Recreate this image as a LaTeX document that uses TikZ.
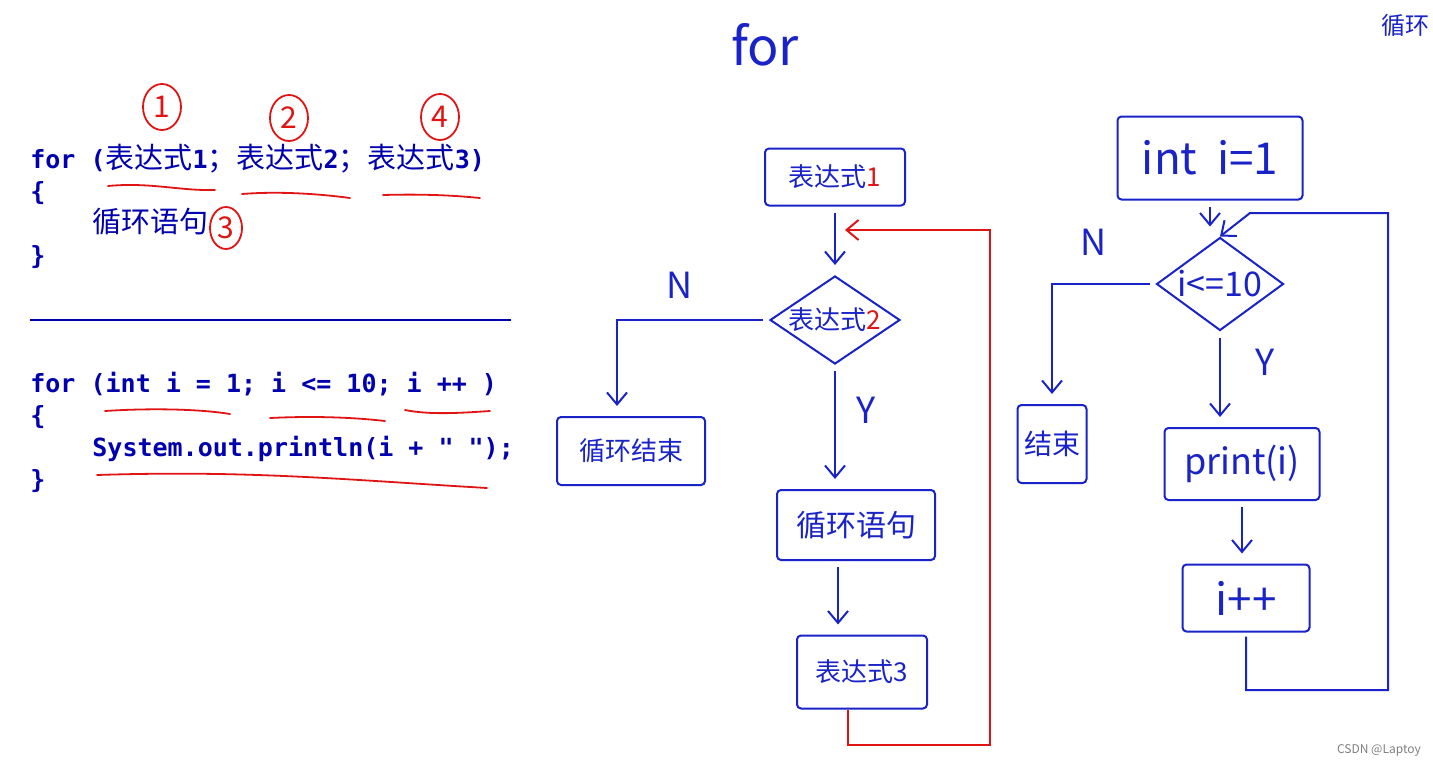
\documentclass[tikz,border=0pt]{standalone}
\usepackage{fontspec}
\newfontfamily\hand{Noto Sans CJK SC}
\newfontfamily\codefont{DejaVu Sans Mono}
\usetikzlibrary{positioning,shapes.geometric,arrows.meta}
\definecolor{codeblue}{RGB}{0,0,175}
\definecolor{ink}{RGB}{25,35,200}
\definecolor{pen}{RGB}{225,20,20}
\newcommand{\zh}[1]{{\hand\mdseries\fontsize{14.5}{16}\selectfont #1}}

\begin{document}
\begin{tikzpicture}[x=0.5pt,y=-0.5pt,
  code/.style={anchor=base west,inner sep=0pt,text=codeblue,font=\codefont\bfseries\fontsize{12.5}{14}\selectfont},
  numc/.style={ellipse,draw=pen,line width=0.9pt,text=pen,font=\hand\fontsize{15}{15}\selectfont,inner sep=0pt,minimum width=19pt,minimum height=23pt},
  redline/.style={draw=pen,line width=0.9pt,line cap=round},
  box/.style={draw=ink,line width=1pt,text=ink,inner sep=0pt,rounded corners=2pt,font=\hand\fontsize{13}{14}\selectfont},
  cond/.style={diamond,draw=ink,line width=1pt,inner sep=0pt},
  lbl/.style={text=ink,inner sep=0pt,font=\hand\fontsize{18}{18}\selectfont},
  flow/.style={draw=ink,line width=1pt,-{Straight Barb[length=6pt,width=10pt]},shorten <=3pt,shorten >=5pt},
  back/.style={draw=pen,line width=1pt,-{Straight Barb[length=6pt,width=10pt]}}]
\useasboundingbox (0,0) rectangle (1433,766);
\fill[white] (0,0) rectangle (1433,766);

% code on the left
\node[code] (l1) at (30,168) {for (\zh{表达式}1\zh{；}\zh{表达式}2\zh{；}\zh{表达式}3)};
\node[code] (l2) at (30,200) {\{};
\node[code] (l3) at (92,232) {\zh{循环语句}};
\node[code] (l4) at (30,264) {\}};
\draw[codeblue,line width=1.2pt] (30,320) -- (511,320);
\node[code] (k1) at (30,392) {for (int i = 1; i <= 10; i ++ )};
\node[code] (k2) at (30,424) {\{};
\node[code] (k3) at (92,456) {System.out.println(i + " ");};
\node[code] (k4) at (30,488) {\}};

% red marks
\node[numc] (n1) at (162,107) {1};
\node[numc] (n2) at (289,118) {2};
\node[numc] (n4) at (440,117) {4};
\node[numc,minimum width=16pt,minimum height=21pt] (n3) at (226,228) {3};
\draw[redline] (108,186) .. controls (150,182) and (180,191) .. (215,190);
\draw[redline] (242,194) .. controls (280,191) and (320,194) .. (350,198);
\draw[redline] (383,195) .. controls (420,194) and (450,195) .. (480,198);
\draw[redline] (105,411) .. controls (150,408) and (200,409) .. (230,414);
\draw[redline] (270,418) .. controls (310,416) and (350,417) .. (385,421);
\draw[redline] (405,410) .. controls (430,415) and (460,413) .. (490,411);
\draw[redline] (97,475) .. controls (250,470) and (350,480) .. (487,488);

% for flowchart
\node[lbl,font=\hand\fontsize{26}{26}\selectfont] (ttl) at (765,45) {for};
\node[box,minimum width=70pt,minimum height=28.5pt] (e1) at (835,177) {表达式\textcolor{pen}{1}};
\node[cond,minimum width=65pt,minimum height=44pt] (d1) at (835,320) {};
\node[box,draw=none] (d1t) at (d1) {表达式\textcolor{pen}{2}};
\node[box,minimum width=74pt,minimum height=34pt] (endl) at (631,451) {循环结束};
\node[box,minimum width=79pt,minimum height=35pt,font=\hand\fontsize{15}{15}\selectfont] (body) at (856,525) {循环语句};
\node[box,minimum width=65pt,minimum height=36.5pt] (e3) at (862,672) {表达式3};
\coordinate (loopA) at (990,745);
\coordinate (join) at (845,230);
\path[flow] (e1) edge (e1.south |- d1.north);
\path[flow] (d1.west) -| ([xshift=-7pt]endl.north);
\node[lbl] (nl) at (680,285) {N};
\path[flow] (d1.south) -- (d1.south |- body.north);
\node[lbl] (yl) at (866,410) {Y};
\path[flow] ([xshift=-9pt]body.south) -- ([xshift=-9pt]body.south |- e3.north);
\draw[back] ([xshift=-7pt]e3.south) |- (loopA) |- (join);

% right flowchart
\node[box,minimum width=92.5pt,minimum height=41.5pt,font=\hand\fontsize{22}{22}\selectfont] (init) at (1210,158) {int\ \ i=1};
\node[cond,minimum width=63.5pt,minimum height=46.5pt] (d2) at (1220,284) {};
\node[box,draw=none,font=\hand\fontsize{17}{17}\selectfont] (d2t) at (d2) {i<=10};
\node[box,minimum width=34.5pt,minimum height=39pt,font=\hand\fontsize{14}{14}\selectfont] (endr) at (1052,444) {结束};
\node[box,minimum width=77.5pt,minimum height=36pt,font=\hand\fontsize{18}{18}\selectfont] (pr) at (1242,464) {print(i)};
\node[box,minimum width=63.5pt,minimum height=33.5pt,font=\hand\fontsize{22}{22}\selectfont] (inc) at (1246,598) {i++};
\coordinate (loopB) at (1388,690);
\coordinate (loopC) at (1250,213);
\path[flow] (init.south) -- (init.south |- d2.north);
\path[flow] (d2.west) -| (endr.north);
\node[lbl] (nr) at (1093,242) {N};
\path[flow] (d2.south) -- (d2.south |- pr.north);
\node[lbl] (yr) at (1265,362) {Y};
\path[flow] (pr.south) -- (pr.south |- inc.north);
\draw[flow,shorten <=2pt,shorten >=0pt] (inc.south) |- (loopB) |- (loopC) -- (d2.north);

% heading at the right edge
\node[lbl,anchor=east,font=\hand\fontsize{12}{12}\selectfont] (cut) at (1430,25) {循环};
\node[text=gray,inner sep=0pt,font=\hand\fontsize{6}{6}\selectfont] (wm) at (1379,750) {CSDN @Laptoy};
\end{tikzpicture}
\end{document}
